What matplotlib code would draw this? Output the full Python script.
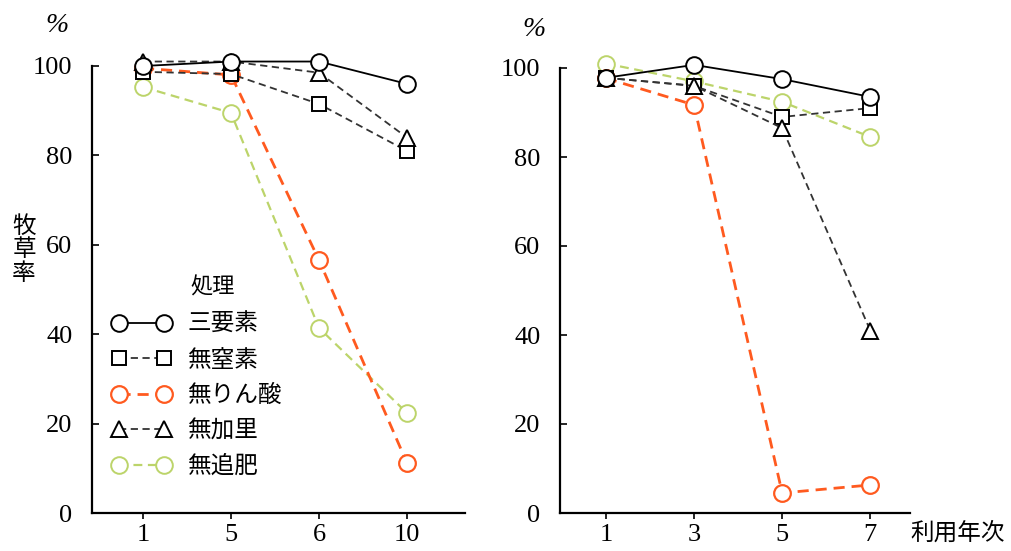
import numpy as np
import matplotlib
matplotlib.use("Agg")
import matplotlib.pyplot as plt

# 利用年次 (categorical)
years_left = ["1", "5", "6", "10"]
years_right = ["1", "3", "5", "7"]

labels = ["三要素", "無窒素", "無りん酸", "無加里", "無追肥"]

# 牧草率 (%) left panel
left_vals = [
    [100, 101, 101, 96],     # 三要素
    [98.7, 98.2, 91.5, 81],  # 無窒素
    [99.5, 98, 56.6, 11.2],  # 無りん酸
    [101, 101, 98.5, 84],    # 無加里
    [95.3, 89.5, 41.4, 22.4],  # 無追肥
]
# right panel
right_vals = [
    [97.8, 100.7, 97.5, 93.5],
    [97.8, 96, 89, 91],
    [97.7, 91.7, 4.5, 6.3],
    [97.8, 96, 86.5, 41],
    [101, 97, 92.4, 84.5],
]

orange = "#ff5a1f"
green = "#bcd46a"
styles = [
    dict(color="black", ls="-", lw=1.3, marker="o", ms=12, mfc="white", mec="black", mew=1.4),
    dict(color="#333333", ls=(0, (4, 2.5)), lw=1.3, marker="s", ms=10, mfc="white", mec="black", mew=1.4),
    dict(color=orange, ls=(0, (4, 2.5)), lw=2.0, marker="o", ms=12, mfc="white", mec=orange, mew=1.6),
    dict(color="#333333", ls=(0, (4, 2.5)), lw=1.3, marker="^", ms=12, mfc="white", mec="black", mew=1.4),
    dict(color=green, ls=(0, (4, 2.5)), lw=1.6, marker="o", ms=12, mfc="white", mec=green, mew=1.4),
]
zorders = [6, 4, 3, 5, 2]

serif = "Liberation Serif"
jp = ["Noto Sans CJK JP", "DejaVu Sans"]

W, H = 1012, 551
fig = plt.figure(figsize=(W / 100, H / 100), dpi=100)

def fx(px):
    return px / W

def fy(py):
    return 1 - py / H

ax1 = fig.add_axes([fx(92), fy(513), fx(465) - fx(92), fy(66) - fy(513)])
ax2 = fig.add_axes([fx(560), fy(513), fx(910) - fx(560), fy(68) - fy(513)])

for ax, cats, vals, xl in [(ax1, years_left, left_vals, (-0.58, 3.66)),
                           (ax2, years_right, right_vals, (-0.52, 3.45))]:
    x = np.arange(len(cats))
    handles = []
    for i, v in enumerate(vals):
        h, = ax.plot(x, v, clip_on=False, zorder=zorders[i], **styles[i])
        handles.append(h)
    ax.set_xlim(*xl)
    ax.set_ylim(0, 100)
    ax.set_xticks(x)
    ax.set_xticklabels(cats)
    ax.set_yticks([0, 20, 40, 60, 80, 100])
    for s in ["top", "right"]:
        ax.spines[s].set_visible(False)
    for s in ["left", "bottom"]:
        ax.spines[s].set_linewidth(1.6)
    ax.tick_params(axis="y", direction="in", length=5, width=1.2, pad=14, labelsize=19)
    ax.tick_params(axis="x", direction="out", length=4, width=1.2, pad=4, labelsize=19)
    for t in ax.get_xticklabels() + ax.get_yticklabels():
        t.set_family(serif)

fig.text(fx(57), fy(25), "%", fontsize=20, family=serif, style="italic", ha="center", va="center")
fig.text(fx(534), fy(30), "%", fontsize=20, family=serif, style="italic", ha="center", va="center")
fig.text(fx(24), fy(250), "牧\n草\n率", fontsize=17, family=jp, ha="center", va="center", linespacing=1.05)
fig.text(fx(958), fy(533), "利用年次", fontsize=17, family=jp, ha="center", va="center")

fig.text(fx(190), fy(287), "処理", fontsize=16, family=jp, ha="left", va="center")
leg = ax1.legend(handles, labels, loc="upper left", bbox_to_anchor=(fx(112), fy(313)),
                 bbox_transform=fig.transFigure, frameon=False, numpoints=2,
                 handlelength=2.5, handletextpad=0.7, labelspacing=0.53,
                 borderpad=0, borderaxespad=0, prop={"family": jp, "size": 17})

fig.savefig("out.png", dpi=100)
